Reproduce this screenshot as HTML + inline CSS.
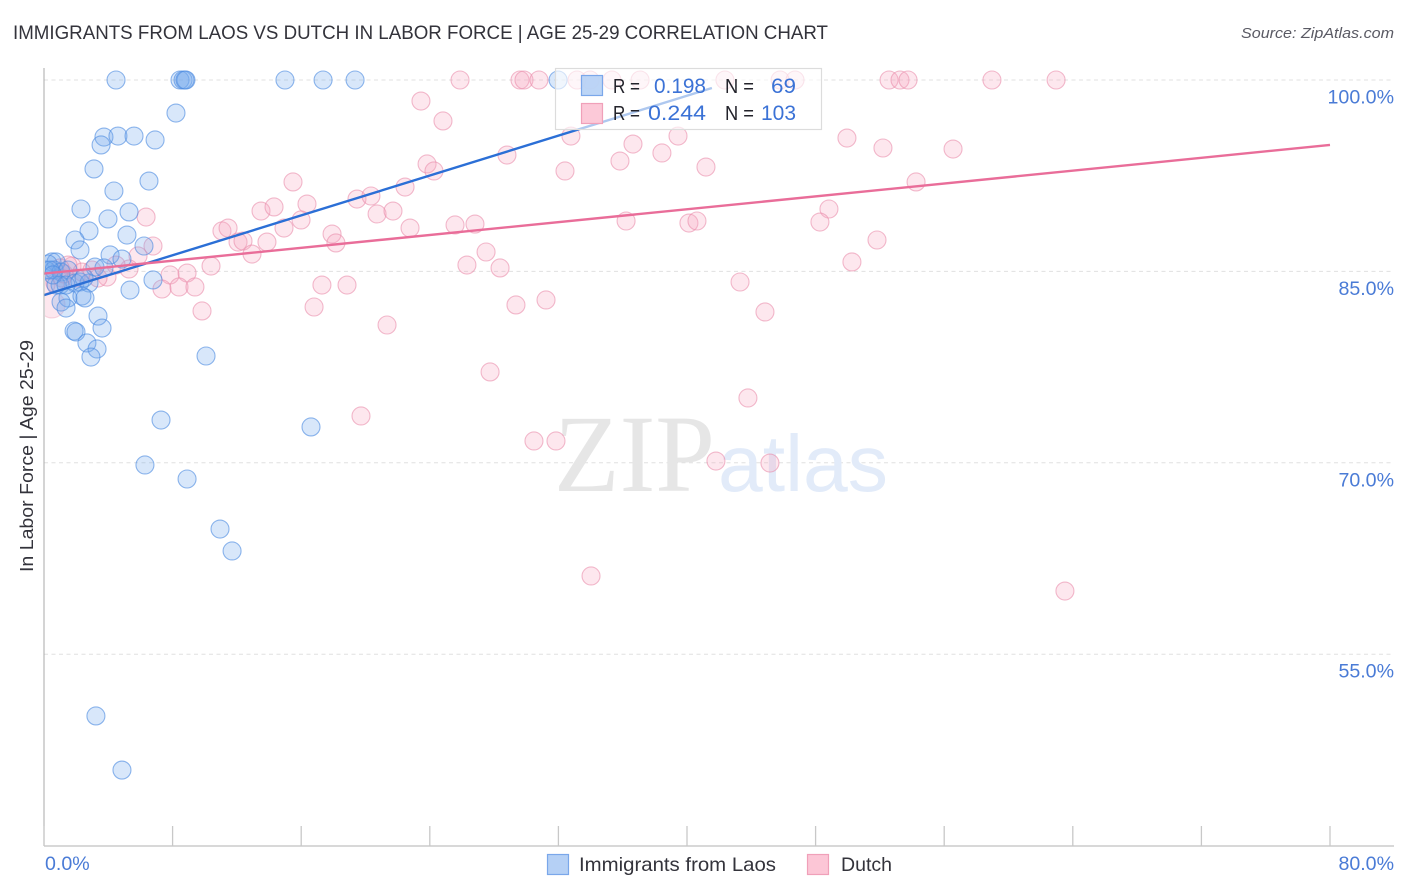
<!DOCTYPE html>
<html lang="en">
<head>
<meta charset="utf-8">
<title>Immigrants from Laos vs Dutch in Labor Force | Age 25-29 Correlation Chart</title>
<style>
html,body{margin:0;padding:0;background:#fff;width:1406px;height:892px;overflow:hidden}
svg{display:block}
text{font-family:"Liberation Sans",sans-serif}
</style>
</head>
<body>
<svg id="chart" width="1406" height="892" viewBox="0 0 1406 892" xmlns="http://www.w3.org/2000/svg">
  <defs>
    <clipPath id="plot-clip"><rect x="45" y="60" width="1361" height="786"></rect></clipPath>
  </defs>
  <rect x="0" y="0" width="1406" height="892" fill="#fff"></rect>
  <text x="13" y="39" font-size="19.5" fill="#33333b" textLength="815" lengthAdjust="spacingAndGlyphs">IMMIGRANTS FROM LAOS VS DUTCH IN LABOR FORCE | AGE 25-29 CORRELATION CHART</text>
  <text x="1241" y="38" font-size="15" font-style="italic" fill="#5a5a64" textLength="153" lengthAdjust="spacingAndGlyphs">Source: ZipAtlas.com</text>
  <g id="grid"></g>
  <g>
    <text x="554" y="491" font-size="110" fill="#e6e6e6" style="font-family:'Liberation Serif',serif" textLength="161" lengthAdjust="spacingAndGlyphs">ZIP</text>
    <text x="718" y="491" font-size="80" fill="#e2ebf9" textLength="170" lengthAdjust="spacingAndGlyphs">atlas</text>
  </g>
  <g id="points" clip-path="url(#plot-clip)"></g>
  <g id="trends"></g>
  <line x1="44" y1="68" x2="44" y2="846" stroke="#b0b0b0" stroke-width="1.1"></line>
  <line x1="44" y1="846" x2="1394" y2="846" stroke="#b0b0b0" stroke-width="1.1"></line>
  <g id="ticks"></g>
  <g id="ylabels"></g>
  <g id="xlabels"></g>
  <text transform="translate(33,572) rotate(-90)" x="0" y="0" font-size="18.5" fill="#33333b" textLength="232" lengthAdjust="spacingAndGlyphs">In Labor Force | Age 25-29</text>

  <g>
    <rect x="555.5" y="68.5" width="266" height="61" fill="#fff" fill-opacity="0.62" stroke="#dcdcdc" stroke-width="1.2"></rect>
    <rect x="581.5" y="75.5" width="21" height="20" fill="#b5d0f5" fill-opacity="0.9" stroke="#7aa7ea" stroke-width="1.2"></rect>
    <rect x="581.5" y="103.5" width="21" height="20" fill="#fcc6d6" fill-opacity="0.95" stroke="#f0a0b9" stroke-width="1.2"></rect>
    <text x="613" y="93" font-size="20" fill="#23232b" textLength="27" lengthAdjust="spacingAndGlyphs">R =</text>
    <text x="654" y="93" font-size="21" fill="#3b72d6" textLength="52" lengthAdjust="spacingAndGlyphs">0.198</text>
    <text x="725" y="93" font-size="20" fill="#23232b" textLength="29" lengthAdjust="spacingAndGlyphs">N =</text>
    <text x="771" y="93" font-size="21" fill="#3b72d6" textLength="25" lengthAdjust="spacingAndGlyphs">69</text>
    <text x="613" y="120" font-size="20" fill="#23232b" textLength="27" lengthAdjust="spacingAndGlyphs">R =</text>
    <text x="648" y="120" font-size="21" fill="#3b72d6" textLength="58" lengthAdjust="spacingAndGlyphs">0.244</text>
    <text x="725" y="120" font-size="20" fill="#23232b" textLength="29" lengthAdjust="spacingAndGlyphs">N =</text>
    <text x="761" y="120" font-size="21" fill="#3b72d6" textLength="35" lengthAdjust="spacingAndGlyphs">103</text>
  </g>

  <g>
    <rect x="547.5" y="854.5" width="21" height="20" fill="#b5d0f5" stroke="#7aa7ea" stroke-width="1.2"></rect>
    <text x="579" y="871" font-size="19.5" fill="#33333b" textLength="197" lengthAdjust="spacingAndGlyphs">Immigrants from Laos</text>
    <rect x="807.5" y="854.5" width="21" height="20" fill="#fcc6d6" stroke="#f0a0b9" stroke-width="1.2"></rect>
    <text x="841" y="871" font-size="19.5" fill="#33333b" textLength="51" lengthAdjust="spacingAndGlyphs">Dutch</text>
  </g>
</svg>
<script>
// Chart data (percent units)
const yTickValues = [100, 85, 70, 55];
const yTickLabels = ["100.0%", "85.0%", "70.0%", "55.0%"];
const xTickValues = [0, 8, 16, 24, 32, 40, 48, 56, 64, 72, 80];
const xEndValues = [0, 80];
const xEndLabels = ["0.0%", "80.0%"];

const laosX = [4.48,8.46,8.65,8.83,8.77,14.99,17.36,19.35,31.98,8.21,3.73,4.60,5.60,3.55,6.91,3.11,6.53,4.35,2.30,5.29,3.98,2.80,1.93,5.16,2.24,6.22,4.11,4.85,0.50,0.75,0.25,0.12,0.62,1.06,1.49,3.17,3.73,6.78,5.35,0.75,1.00,1.93,2.24,2.80,2.49,1.49,2.36,2.55,1.06,1.37,3.36,3.61,1.87,1.99,2.67,3.30,2.92,10.08,7.28,16.61,6.28,8.90,10.95,11.70,3.23,4.85,0.37,0.56,1.37];
const laosY = [100,100,100,100,100,100,100,100,100,97.41,95.53,95.61,95.61,94.91,95.30,93.03,92.08,91.30,89.89,89.66,89.11,88.17,87.46,87.85,86.68,86.99,86.29,85.97,85.74,85.74,85.58,85.11,85.11,84.95,85.11,85.34,85.27,84.33,83.54,83.93,83.93,84.09,84.17,84.09,84.48,82.92,83.07,82.92,82.60,82.13,81.50,80.56,80.33,80.25,79.39,78.92,78.29,78.37,73.35,72.81,69.83,68.73,64.81,63.09,50.16,45.92,85.11,84.72,83.93];

const dutchX = [25.88,29.61,29.86,30.79,33.16,33.97,35.33,37.08,42.36,45.79,46.72,52.57,53.25,53.75,58.97,62.96,23.45,24.82,32.78,39.44,49.95,36.64,38.44,52.19,56.55,28.80,35.83,41.18,23.83,24.26,32.41,15.49,22.46,54.25,19.47,20.34,16.36,13.50,14.31,20.72,21.71,48.83,6.35,15.99,11.07,11.45,14.93,22.77,25.57,26.81,36.21,40.12,40.62,48.27,17.92,18.16,12.07,12.38,13.87,51.82,6.78,12.94,5.85,27.50,26.31,28.37,10.39,50.26,7.84,8.90,5.29,7.34,8.40,9.39,43.30,17.29,18.85,31.23,29.36,16.80,9.83,44.85,21.34,27.75,43.79,19.72,30.48,31.85,41.80,45.16,34.03,63.51,0.12,0.68,1.12,1.74,1.49,2.36,2.99,3.92,3.36,4.48,1.00,1.24,1.99];
const dutchY = [100,100,100,100,100,100,100,100,100,100,100,100,100,100,100,100,98.35,96.79,95.61,95.61,95.45,94.98,94.28,94.67,94.59,94.12,93.65,93.18,93.42,92.87,92.87,92.01,91.61,92.01,90.67,90.91,90.28,89.73,90.05,89.50,89.73,89.89,89.26,89.03,88.17,88.40,88.40,88.40,88.64,88.71,88.95,88.79,88.95,88.87,87.93,87.23,87.30,87.38,87.30,87.46,86.99,86.36,86.21,86.52,85.50,85.27,85.42,85.74,84.72,84.87,85.19,83.62,83.78,83.78,84.17,83.93,83.93,82.76,82.37,82.21,81.90,81.82,80.80,77.12,75.08,73.67,71.71,71.71,70.14,69.98,61.13,59.95,83.93,84.09,84.48,85.42,85.50,84.95,85.11,84.56,84.48,85.50,85.27,84.80,84.48];
const dutchLargeX = [0.5];
const dutchLargeY = [82.37];

const laosTrendX = [0, 41.55];
const laosTrendY = [83.14, 99.37];
const dutchTrendX = [0, 80];
const dutchTrendY = [84.83, 94.91];

// Axis functions
function xScale(v) { return 44 + v * 16.075; }
function yScale(v) { return 80 + (100 - v) * 12.76; }

const NS = "http://www.w3.org/2000/svg";
function make(tag, parent, attrs) {
  const el = document.createElementNS(NS, tag);
  for (const k in attrs) el.setAttribute(k, attrs[k]);
  parent.appendChild(el);
  return el;
}

const grid = document.getElementById("grid");
const ylabels = document.getElementById("ylabels");
yTickValues.forEach(function (v, i) {
  const line = make("line", grid, { x1: 44, x2: 1394, y1: yScale(v), y2: yScale(v), stroke: "#e0e0e0", "stroke-width": 1, "stroke-dasharray": "4 3.5" });
  
  
  const t = make("text", ylabels, { x: 1394, y: yScale(v) + 23.5, "font-size": 19.6, fill: "#4a7bd6", "text-anchor": "end" });
  
  
  t.textContent = yTickLabels[i];
});

const ticks = document.getElementById("ticks");
xTickValues.forEach(function (v) {
  const tick = make("line", ticks, { x1: xScale(v), x2: xScale(v), y1: 826, y2: 846, stroke: "#c8c8c8", "stroke-width": 1.3 });
  
  
});

const xlabels = document.getElementById("xlabels");
xEndValues.forEach(function (v, i) {
  const anchorStart = i === 0;
  const t = make("text", xlabels, { x: anchorStart ? xScale(v) + 1 : 1394, y: 870, "font-size": 19.6, fill: "#4a7bd6", "text-anchor": anchorStart ? "start" : "end" });
  
  
  t.textContent = xEndLabels[i];
});

const points = document.getElementById("points");
dutchLargeX.forEach(function (v, i) {
  const c = make("circle", points, { cx: xScale(v), cy: yScale(dutchLargeY[i]), r: 13, fill: "#f8aac3", "fill-opacity": 0.28, stroke: "#ee9db6", "stroke-opacity": 0.4, "stroke-width": 1.1 });
  
  
});
dutchX.forEach(function (v, i) {
  const c = make("circle", points, { cx: xScale(v), cy: yScale(dutchY[i]), r: 9, fill: "#f8aac3", "fill-opacity": 0.28, stroke: "#e88aa8", "stroke-opacity": 0.58, "stroke-width": 1.1 });
  
  
});
laosX.forEach(function (v, i) {
  const c = make("circle", points, { cx: xScale(v), cy: yScale(laosY[i]), r: 9, fill: "#74a9ee", "fill-opacity": 0.28, stroke: "#4c8ae0", "stroke-opacity": 0.62, "stroke-width": 1.1 });
  
  
});

const trends = document.getElementById("trends");
const laosLine = make("line", trends, { x1: xScale(laosTrendX[0]), y1: yScale(laosTrendY[0]), x2: xScale(laosTrendX[1]), y2: yScale(laosTrendY[1]), stroke: "#2b6fd6", "stroke-width": 2.4 });


const dutchLine = make("line", trends, { x1: xScale(dutchTrendX[0]), y1: yScale(dutchTrendY[0]), x2: xScale(dutchTrendX[1]), y2: yScale(dutchTrendY[1]), stroke: "#e96d99", "stroke-width": 2.4 });


</script>
</body>
</html>
